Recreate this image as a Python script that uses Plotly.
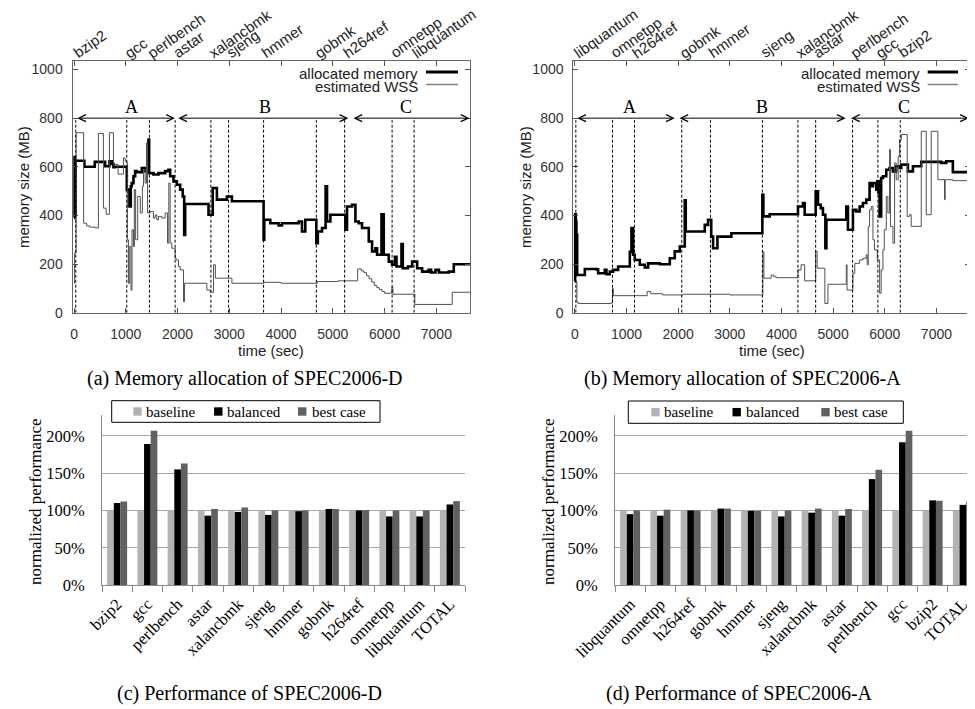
import plotly.graph_objects as go

# ---------------- data: memory allocation (step series, value holds until next time) ----------------
time_alloc_d = [0, 10, 20, 30, 200, 400, 600, 683, 729, 761, 793, 1019, 1070, 1096, 1115, 1148, 1180, 1212,
                1309, 1373, 1438, 1451, 1534, 1631, 1760, 1825, 1857, 1921, 1986, 2050, 2100, 2128, 2147,
                2598, 2680, 2760, 2953, 3050, 3662, 3675, 3791, 3952, 4017, 4339, 4404, 4468, 4681, 4710,
                4791, 4860, 4888, 4952, 5242, 5274, 5371, 5436, 5500, 5564, 5694, 5758, 5823, 5855, 5940,
                5984, 6080, 6145, 6200, 6230, 6326, 6352, 6450, 6532, 6629, 6725, 6850, 6900, 6983, 7050,
                7241, 7337, 7660]
mem_alloc_d = [390, 640, 400, 625, 600, 620, 602, 623, 612, 598, 600, 506, 437, 520, 533, 561, 582, 578,
               595, 582, 712, 574, 568, 574, 582, 588, 561, 540, 526, 506, 478, 320, 447,
               403, 513, 465, 478, 458, 300, 382, 368, 359, 368, 375, 334, 382, 286, 334,
               348, 520, 375, 403, 341, 437, 444, 375, 368, 348, 293, 252, 265, 238, 405,
               238, 210, 197, 230, 190, 282, 183, 190, 210, 183, 169, 176, 165, 176, 165,
               169, 199, 199]
time_wss_d = [0, 10, 40, 185, 245, 300, 400, 471, 567, 620, 683, 761, 850, 954, 990, 1019, 1030, 1051, 1075,
              1100, 1120, 1148, 1165, 1190, 1230, 1280, 1320, 1341, 1373, 1400, 1420, 1470, 1534, 1567, 1599,
              1631, 1696, 1760, 1805, 1831, 1857, 1889, 1954, 1973, 2018, 2050, 2115, 2135, 2566, 2640, 2695,
              2730, 3050, 3662, 4000, 4700, 5100, 5468, 5480, 5550, 5600, 5650, 5700, 5750, 5800, 5850, 5900,
              5952, 6000, 6113, 6140, 6160, 6584, 7306, 7660]
mem_wss_d = [121, 245, 740, 368, 357, 352, 349, 737, 430, 405, 740, 610, 570, 636, 623, 616, 300, 121, 272,
             93, 341, 272, 506, 300, 478, 410, 520, 588, 533, 698, 410, 416, 389, 402, 382,
             396, 389, 410, 286, 533, 286, 265, 224, 217, 190, 176, 45, 121, 93, 84, 197,
             142, 121, 125, 121, 128, 131, 131, 180, 172, 165, 152, 140, 126, 112, 103, 95,
             87, 80, 80, 105, 76, 34, 84, 84]

time_alloc_a = [0, 5, 19, 30, 45, 193, 419, 451, 580, 612, 677, 741, 838, 1064, 1096, 1128, 1160, 1257, 1354,
                1418, 1644, 1838, 1934, 2031, 2128, 2147, 2515, 2579, 2640, 2676, 2760, 3030, 3630, 3650, 3772,
                4320, 4416, 4449, 4662, 4707, 4760, 4803, 4850, 4870, 5255, 5287, 5384, 5448, 5513, 5577, 5642,
                5706, 5739, 5771, 5835, 5855, 5880, 5900, 5930, 5964, 6029, 6093, 6158, 6222, 6286, 6319, 6448,
                6545, 6706, 7093, 7189, 7318, 7627, 7660]
mem_alloc_a = [128, 405, 375, 320, 155, 180, 178, 162, 176, 158, 169, 176, 190, 250, 348, 238, 217, 197, 186,
               203, 199, 224, 252, 272, 462, 334, 361, 382, 313, 265, 313, 327, 485, 396, 405,
               437, 451, 403, 499, 444, 430, 403, 265, 382, 437, 341, 423, 416, 437, 451, 465,
               533, 520, 533, 506, 540, 492, 396, 554, 561, 588, 595, 581, 602, 595, 609, 581,
               602, 620, 616, 623, 578, 770, 770]
time_wss_a = [0, 40, 64, 700, 729, 745, 1400, 1470, 1700, 2100, 3000, 3630, 3640, 3660, 3800, 3850, 3900, 4320,
              4380, 4449, 4662, 4690, 4840, 4900, 5255, 5270, 5384, 5420, 5513, 5577, 5642, 5660, 5680, 5706,
              5739, 5771, 5800, 5855, 5900, 5930, 5964, 5990, 6029, 6060, 6093, 6110, 6158, 6190, 6222, 6260,
              6287, 6320, 6434, 6480, 6512, 6706, 6803, 6899, 7028, 7157, 7170, 7318, 7660]
mem_wss_a = [128, 43, 38, 40, 100, 70, 87, 78, 73, 76, 73, 73, 250, 142, 155, 148, 144, 176,
             197, 131, 252, 183, 38, 117, 197, 93, 162, 203, 217, 224, 238, 197, 355, 423,
             437, 300, 258, 217, 80, 176, 258, 341, 478, 410, 671, 355, 286, 616, 547, 643,
             712, 733, 396, 403, 355, 746, 403, 746, 547, 465, 547, 543, 543]

bench_d = ["bzip2", "gcc", "perlbench", "astar", "xalancbmk", "sjeng", "hmmer", "gobmk", "h264ref",
           "omnetpp", "libquantum"]
bench_start_d = [33, 1019, 1456, 1953, 2644, 2985, 3662, 4681, 5228, 6145, 6570]
bench_a = ["libquantum", "omnetpp", "h264ref", "gobmk", "hmmer", "sjeng", "xalancbmk", "astar", "perlbench",
           "gcc", "bzip2"]
bench_start_a = [19, 729, 1155, 2070, 2625, 3631, 4319, 4662, 5377, 5867, 6300]

phase_names = ["A", "B", "C"]
phase_from_d = [33, 1985, 5370]
phase_to_d = [1950, 5300, 7640]
phase_label_d = [1108, 3694, 6422]
phase_from_a = [19, 1998, 5319]
phase_to_a = [1934, 5242, 7627]
phase_label_a = [1064, 3630, 6370]

# ---------------- data: normalized performance (%) ----------------
perf_cat_d = ["bzip2", "gcc", "perlbench", "astar", "xalancbmk", "sjeng", "hmmer", "gobmk", "h264ref",
              "omnetpp", "libquantum", "TOTAL"]
baseline_d = [100, 100, 100, 100, 100, 100, 100, 100, 100, 100, 100, 100]
balanced_d = [110, 189, 155, 93, 98, 94, 99, 102, 100, 92, 92, 108]
best_d = [112, 207, 163, 102, 104, 100, 100, 102, 100.5, 100, 100, 112.5]

perf_cat_a = ["libquantum", "omnetpp", "h264ref", "gobmk", "hmmer", "sjeng", "xalancbmk", "astar",
              "perlbench", "gcc", "bzip2", "TOTAL"]
baseline_a = [100, 100, 100, 100, 100, 100, 100, 100, 100, 100, 100, 100]
balanced_a = [95, 93, 100, 102.5, 99.5, 92, 97, 93, 142, 191.5, 113.5, 107.5]
best_a = [100, 101, 100, 102.5, 99.5, 100, 102.5, 102, 154.5, 207, 113, 112]

perf_series = ["baseline", "balanced", "best case"]
perf_ticks = [0, 50, 100, 150, 200]
perf_tick_text = ["0%", "50%", "100%", "150%", "200%"]

# ---------------- figure ----------------
W, H = 975, 709
OFF = 8  # the page body adds an 8px margin; positions below are in window pixels


def px(x):
    return (x - OFF) / W


def py(y):
    return 1 - (y - OFF) / H


SANS = "Liberation Sans, Arial, sans-serif"
SERIF = "Liberation Serif, Times New Roman, serif"
TXT = "#222222"

fig = go.Figure()

for t_al, m_al, t_w, m_w, xa, ya in [
    (time_alloc_d, mem_alloc_d, time_wss_d, mem_wss_d, "x", "y"),
    (time_alloc_a, mem_alloc_a, time_wss_a, mem_wss_a, "x2", "y2"),
]:
    fig.add_trace(go.Scatter(x=t_al, y=m_al, mode="lines", line=dict(color="black", width=2.6, shape="hv"),
                             xaxis=xa, yaxis=ya, showlegend=False, name="allocated memory"))
    fig.add_trace(go.Scatter(x=t_w, y=m_w, mode="lines", line=dict(color="#505050", width=1, shape="hv"),
                             xaxis=xa, yaxis=ya, showlegend=False, name="estimated WSS"))

BAR_COLORS = {"baseline": "#b3b3b3", "balanced": "#000000", "best case": "#616161"}
for cats, base, bal, best, xa, ya in [
    (perf_cat_d, baseline_d, balanced_d, best_d, "x3", "y3"),
    (perf_cat_a, baseline_a, balanced_a, best_a, "x4", "y4"),
]:
    for nm, vals in zip(perf_series, [base, bal, best]):
        fig.add_trace(go.Bar(x=cats, y=vals, name=nm, marker=dict(color=BAR_COLORS[nm], line=dict(width=0)),
                             xaxis=xa, yaxis=ya, showlegend=False))

top_x = dict(range=[-30, 7650], tick0=0, dtick=1000, ticks="inside", ticklen=5, tickcolor="#555",
             showline=True, linecolor="#666", linewidth=1, mirror="ticks", showgrid=False, zeroline=False,
             tickfont=dict(family=SANS, size=14, color="#333"), ticklabelstandoff=8, automargin=False)
top_y = dict(range=[0, 1035], tick0=0, dtick=200, ticks="inside", ticklen=5, tickcolor="#555",
             showline=True, linecolor="#666", linewidth=1, mirror="ticks", showgrid=False, zeroline=False,
             tickfont=dict(family=SANS, size=14, color="#333"), ticklabelstandoff=6, automargin=False)
bot_x = dict(type="category", tickangle=-45, ticks="outside", tickson="boundaries", ticklen=6,
             tickcolor="#888", showline=True, linecolor="#888", linewidth=1, showgrid=False, zeroline=False,
             tickfont=dict(family=SERIF, size=16.5, color="black"), ticklabelstandoff=2, automargin=False)
bot_y = dict(range=[0, 228], tickvals=perf_ticks, ticktext=perf_tick_text, showgrid=True, gridcolor="#a6a6a6",
             gridwidth=1, showline=True, linecolor="#888", linewidth=1, zeroline=False, ticks="",
             tickfont=dict(family=SERIF, size=16.5, color="black"), ticklabelstandoff=13, automargin=False)

y_top_dom = [py(312.7), py(61)]
y_bot_dom = [py(585), py(415)]

fig.update_layout(
    width=W, height=H, margin=dict(l=0, r=0, t=0, b=0, autoexpand=False),
    paper_bgcolor="white", plot_bgcolor="white", showlegend=False,
    barmode="group", bargap=0.34, bargroupgap=0,
    xaxis=dict(top_x, domain=[px(72.5), px(470)], anchor="y"),
    yaxis=dict(top_y, domain=y_top_dom, anchor="x"),
    xaxis2=dict(top_x, domain=[px(573.3), px(970)], anchor="y2"),
    yaxis2=dict(top_y, domain=y_top_dom, anchor="x2"),
    xaxis3=dict(bot_x, domain=[px(102), px(465)], anchor="y3"),
    yaxis3=dict(bot_y, domain=y_bot_dom, anchor="x3"),
    xaxis4=dict(bot_x, domain=[px(615), px(978)], anchor="y4"),
    yaxis4=dict(bot_y, domain=y_bot_dom, anchor="x4"),
)

annotations = []
shapes = []

for names, starts, xa, ya in [(bench_d, bench_start_d, "x", "y"), (bench_a, bench_start_a, "x2", "y2")]:
    for nm, t in zip(names, starts):
        annotations.append(dict(x=t, xref=xa, y=py(64), yref="paper", text=nm, textangle=-35,
                                xanchor="left", yanchor="bottom", showarrow=False, xshift=-8,
                                font=dict(family=SANS, size=15, color=TXT)))
        shapes.append(dict(type="line", xref=xa, yref=ya, x0=t, x1=t, y0=0, y1=792,
                           line=dict(color="black", width=1, dash="3px,2px")))

for froms, tos, labs, xa, ya in [(phase_from_d, phase_to_d, phase_label_d, "x", "y"),
                                 (phase_from_a, phase_to_a, phase_label_a, "x2", "y2")]:
    for nm, f, tt, lx in zip(phase_names, froms, tos, labs):
        annotations.append(dict(x=tt, y=800, ax=f, ay=800, xref=xa, yref=ya, axref=xa, ayref=ya, text="",
                                showarrow=True, arrowhead=5, startarrowhead=5, arrowside="end+start",
                                arrowwidth=1, arrowsize=1.4, startarrowsize=1.4, arrowcolor="black",
                                standoff=0, startstandoff=0))
        annotations.append(dict(x=lx, y=845, xref=xa, yref=ya, text=nm, showarrow=False,
                                xanchor="center", yanchor="middle",
                                font=dict(family=SERIF, size=18, color="black")))

# legends of the memory charts (gnuplot style: text, then line sample on the right)
for txt_right, s0, s1 in [(420, 426, 458), (921.7, 927.7, 958)]:
    annotations.append(dict(x=px(txt_right), y=py(73.5), xref="paper", yref="paper", text="allocated memory",
                            xanchor="right", yanchor="middle", showarrow=False,
                            font=dict(family=SANS, size=15, color=TXT)))
    annotations.append(dict(x=px(txt_right), y=py(86.5), xref="paper", yref="paper", text="estimated WSS",
                            xanchor="right", yanchor="middle", showarrow=False,
                            font=dict(family=SANS, size=15, color=TXT)))
    shapes.append(dict(type="line", xref="paper", yref="paper", x0=px(s0), x1=px(s1), y0=py(72), y1=py(72),
                       line=dict(color="black", width=3)))
    shapes.append(dict(type="line", xref="paper", yref="paper", x0=px(s0), x1=px(s1), y0=py(84.5),
                       y1=py(84.5), line=dict(color="#808080", width=1.5)))

# legends of the performance charts (boxed, one row)
for bx0, bx1, by0, by1, sq_centers, txt_lefts in [
    (111.7, 380, 400.7, 422.3, [137.5, 218.3, 302.2], [144.3, 225, 310]),
    (628.3, 903.3, 401, 423.3, [655.5, 736.7, 825.5], [661.7, 744, 831.7]),
]:
    shapes.append(dict(type="rect", xref="paper", yref="paper", x0=px(bx0), x1=px(bx1), y0=py(by1), y1=py(by0),
                       line=dict(color="black", width=1), fillcolor="white", layer="above"))
    cy = (by0 + by1) / 2
    for nm, sc, tl in zip(perf_series, sq_centers, txt_lefts):
        shapes.append(dict(type="rect", xref="paper", yref="paper", x0=px(sc - 4.2), x1=px(sc + 4.2),
                           y0=py(cy + 4.2), y1=py(cy - 4.2), line=dict(width=0), fillcolor=BAR_COLORS[nm],
                           layer="above"))
        annotations.append(dict(x=px(tl), y=py(cy), xref="paper", yref="paper", text=nm, xanchor="left",
                                yanchor="middle", showarrow=False, font=dict(family=SERIF, size=15, color="black")))

# axis titles
for x_c, y_x in [(271, 23), (771.5, 525)]:
    annotations.append(dict(x=px(x_c), y=py(350), xref="paper", yref="paper", text="time (sec)",
                            xanchor="center", yanchor="middle",
                            showarrow=False, font=dict(family=SANS, size=15, color=TXT)))
    annotations.append(dict(x=px(y_x), y=py(187), xref="paper", yref="paper", text="memory size (MB)",
                            xanchor="center", yanchor="middle",
                            textangle=-90, showarrow=False, font=dict(family=SANS, size=15, color=TXT)))
for y_x in [35, 548]:
    annotations.append(dict(x=px(y_x), y=py(502), xref="paper", yref="paper", text="normalized performance",
                            xanchor="center", yanchor="middle",
                            textangle=-90, showarrow=False, font=dict(family=SERIF, size=17, color="black")))

# captions
for cx, cy, txt in [(245, 378, "(a) Memory allocation of SPEC2006-D"),
                    (742, 378, "(b) Memory allocation of SPEC2006-A"),
                    (249, 693, "(c) Performance of SPEC2006-D"),
                    (739, 693, "(d) Performance of SPEC2006-A")]:
    annotations.append(dict(x=px(cx), y=py(cy), xref="paper", yref="paper", text=txt, showarrow=False,
                            xanchor="center", yanchor="middle",
                            font=dict(family=SERIF, size=20, color="black")))

fig.update_layout(annotations=annotations, shapes=shapes)

fig.write_html("out.html")
